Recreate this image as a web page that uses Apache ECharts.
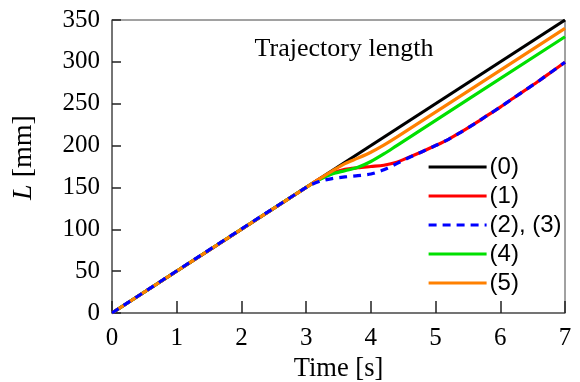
<!DOCTYPE html>
<html>
<head>
<meta charset="utf-8">
<script src="https://cdn.jsdelivr.net/npm/echarts@6/dist/echarts.min.js"></script>
<style>html,body{margin:0;padding:0;background:#fff}#c{width:580px;height:382px}</style>
</head>
<body>
<div id="c"></div>
<script>
const seriesNames = ['(0)', '(1)', '(2), (3)', '(4)', '(5)'];
const seriesColors = ['#000000', '#ff0000', '#0000ff', '#00e000', '#ff8000'];
const xTicks = [0, 1, 2, 3, 4, 5, 6, 7];
const yTicks = [0, 50, 100, 150, 200, 250, 300, 350];

const s0 = [[0, 0], [7, 350]];
const s1 = [[0, 0], [3.0, 150], [3.2, 160], [3.4, 167], [3.6, 171.5], [3.8, 173.5], [4.0, 175], [4.2, 176.5], [4.4, 180], [4.6, 186.5], [4.8, 193], [5.0, 200], [5.2, 207.5], [5.4, 216.5], [5.6, 226], [5.8, 236], [6.0, 246], [6.2, 256.5], [6.4, 267], [6.6, 277.5], [6.8, 288.5], [7.0, 299.5]];
const s23 = [[0, 0], [3.0, 150], [3.2, 157], [3.4, 160.5], [3.6, 162.5], [3.8, 164], [4.0, 166], [4.2, 171], [4.4, 178.5], [4.6, 186], [4.8, 193], [5.0, 200], [5.2, 207.5], [5.4, 216.5], [5.6, 226], [5.8, 236], [6.0, 246], [6.2, 256.5], [6.4, 267], [6.6, 277.5], [6.8, 288.5], [7.0, 299.5]];
const s4 = [[0, 0], [3.0, 150], [3.2, 159], [3.4, 166], [3.6, 170], [3.8, 174], [4.0, 181], [4.2, 190], [4.4, 200], [7, 330]];
const s5 = [[0, 0], [3.2, 160], [3.4, 169.5], [3.6, 178.5], [3.8, 185], [4.0, 192], [4.2, 200.5], [4.4, 210], [7, 340]];
const seriesData = [s0, s1, s23, s4, s5];

const chart = echarts.init(document.getElementById('c'), null, {renderer: 'canvas'});
const serif = '"Liberation Serif", "Times New Roman", serif';
const sans = '"Liberation Sans", Arial, sans-serif';

chart.setOption({
  animation: false,
  backgroundColor: '#ffffff',
  title: {
    text: 'Trajectory length',
    left: 339, top: 31, textAlign: 'center',
    textStyle: {fontFamily: serif, fontSize: 26, fontWeight: 'normal', color: '#000'}
  },
  legend: {
    orient: 'vertical',
    left: 422, top: 150,
    itemWidth: 58, itemHeight: 10, itemGap: 5,
    itemStyle: {opacity: 0},
    lineStyle: {width: 3.2},
    textStyle: {fontFamily: sans, fontSize: 24, color: '#000', padding: [0, 0, 0, -2]},
    data: seriesNames
  },
  grid: {
    left: 112, right: 15, top: 20, bottom: 69,
    outerBoundsMode: 'none',
    containLabel: false,
    show: true, borderColor: '#444', borderWidth: 1, backgroundColor: 'transparent'
  },
  xAxis: {
    type: 'value', min: 0, max: 7, interval: 1,
    name: 'Time [s]', nameLocation: 'middle', nameGap: 43,
    nameTextStyle: {fontFamily: serif, fontSize: 26.5, color: '#000'},
    axisLine: {show: true, lineStyle: {color: '#666', width: 1.5}},
    axisTick: {show: true, inside: true, length: 12, lineStyle: {color: '#222', width: 1.5}},
    axisLabel: {fontFamily: serif, fontSize: 25, color: '#000', margin: 13, formatter: v => xTicks.includes(v) ? String(v) : ''},
    splitLine: {show: false}
  },
  yAxis: {
    type: 'value', min: 0, max: 350, interval: 50,
    name: '{i|L} [mm]', nameLocation: 'middle', nameGap: 74, nameRotate: 90,
    nameTextStyle: {fontFamily: serif, fontSize: 28, color: '#000', padding: [0, 0, 0, 18],
      rich: {i: {fontFamily: serif, fontSize: 28, fontStyle: 'italic', color: '#000'}}},
    axisLine: {show: true, lineStyle: {color: '#666', width: 1.5}},
    axisTick: {show: true, inside: true, length: 9, lineStyle: {color: '#222', width: 1.5}},
    axisLabel: {fontFamily: serif, fontSize: 25, color: '#000', margin: 12, formatter: v => yTicks.includes(v) ? String(v) : ''},
    splitLine: {show: false}
  },
  series: seriesNames.map((n, i) => ({
    name: n,
    type: 'line',
    data: seriesData[i],
    smooth: 0.3,
    symbol: 'none',
    z: [1, 2, 5, 3, 4][i],
    lineStyle: {color: seriesColors[i], width: 3.2, type: i === 2 ? [8, 6] : 'solid'},
    itemStyle: {color: seriesColors[i]}
  }))
});
</script>
</body>
</html>
